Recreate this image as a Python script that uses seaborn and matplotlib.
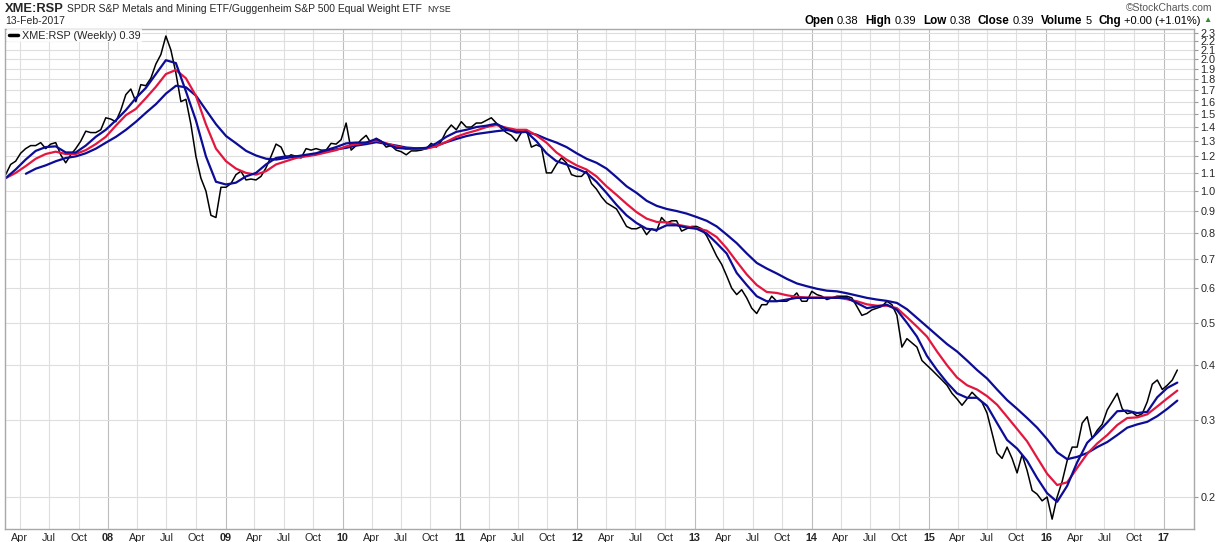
import pandas as pd
import matplotlib.pyplot as plt
import matplotlib.dates as mdates
from matplotlib.lines import Line2D
from matplotlib.ticker import FixedLocator, FixedFormatter, NullLocator
import seaborn as sns

# XME:RSP weekly close (roughly every two weeks)
price = [
    1.09, 1.15, 1.17, 1.22, 1.25, 1.27, 1.27, 1.29, 1.25, 1.28,
    1.29, 1.21, 1.16, 1.21, 1.25, 1.30, 1.37, 1.36, 1.36, 1.38,
    1.47, 1.46, 1.44, 1.53, 1.66, 1.71, 1.60, 1.75, 1.74, 1.81,
    1.95, 2.05, 2.26, 2.10, 1.86, 1.60, 1.62, 1.42, 1.20, 1.07,
    1.00, 0.88, 0.87, 1.02, 1.02, 1.04, 1.09, 1.11, 1.06, 1.065,
    1.06, 1.08, 1.13, 1.20, 1.28, 1.26, 1.19, 1.21, 1.20, 1.19,
    1.25, 1.24, 1.25, 1.24, 1.24, 1.285, 1.28, 1.31, 1.43, 1.24,
    1.27, 1.31, 1.34, 1.285, 1.32, 1.30, 1.26, 1.27, 1.24, 1.23,
    1.21, 1.235, 1.235, 1.24, 1.25, 1.285, 1.26, 1.30, 1.37, 1.415,
    1.38, 1.44, 1.40, 1.40, 1.43, 1.43, 1.45, 1.47, 1.43, 1.39,
    1.36, 1.34, 1.30, 1.36, 1.38, 1.26, 1.275, 1.26, 1.10, 1.10,
    1.15, 1.19, 1.16, 1.09, 1.08, 1.08, 1.11, 1.04, 1.01, 0.97,
    0.94, 0.925, 0.91, 0.87, 0.83, 0.82, 0.82, 0.83, 0.795, 0.82,
    0.81, 0.87, 0.845, 0.855, 0.855, 0.81, 0.82, 0.83, 0.83, 0.82,
    0.79, 0.75, 0.71, 0.68, 0.64, 0.60, 0.58, 0.595, 0.57, 0.54,
    0.525, 0.55, 0.55, 0.575, 0.56, 0.56, 0.56, 0.57, 0.585, 0.56,
    0.56, 0.59, 0.58, 0.575, 0.565, 0.57, 0.575, 0.575, 0.575, 0.57,
    0.545, 0.52, 0.525, 0.535, 0.54, 0.545, 0.56, 0.55, 0.52, 0.44,
    0.46, 0.45, 0.44, 0.41, 0.40, 0.39, 0.38, 0.37, 0.36, 0.345,
    0.335, 0.324, 0.335, 0.347, 0.338, 0.329, 0.311, 0.28, 0.252, 0.245,
    0.26, 0.245, 0.227, 0.25, 0.23, 0.207, 0.203, 0.196, 0.20, 0.178,
    0.20, 0.217, 0.242, 0.26, 0.26, 0.295, 0.305, 0.272, 0.284, 0.293,
    0.316, 0.33, 0.345, 0.318, 0.31, 0.312, 0.306, 0.31, 0.33, 0.362,
    0.37, 0.352, 0.36, 0.37, 0.39,
]

# moving averages (about monthly)
ma_fast = [
    1.07, 1.12, 1.18, 1.235, 1.26, 1.265, 1.225, 1.225, 1.27, 1.33,
    1.38, 1.45, 1.53, 1.63, 1.72, 1.85, 1.99, 1.96, 1.69, 1.45,
    1.20, 1.05, 1.035, 1.045, 1.08, 1.10, 1.15, 1.19, 1.20, 1.20,
    1.21, 1.22, 1.24, 1.26, 1.285, 1.29, 1.29, 1.315, 1.28, 1.255,
    1.25, 1.25, 1.255, 1.285, 1.33, 1.365, 1.38, 1.40, 1.41, 1.425,
    1.385, 1.36, 1.365, 1.30, 1.22, 1.17, 1.15, 1.125, 1.10, 1.05,
    0.99, 0.93, 0.88, 0.845, 0.82, 0.815, 0.835, 0.835, 0.825, 0.82,
    0.80, 0.76, 0.72, 0.65, 0.61, 0.575, 0.56, 0.56, 0.565, 0.57,
    0.57, 0.57, 0.57, 0.57, 0.57, 0.555, 0.54, 0.545, 0.55, 0.535,
    0.50, 0.465, 0.42, 0.39, 0.365, 0.345, 0.337, 0.337, 0.323, 0.295,
    0.27, 0.258, 0.242, 0.221, 0.204, 0.195, 0.212, 0.24, 0.266, 0.28,
    0.296, 0.314, 0.315, 0.311, 0.313, 0.338, 0.355, 0.365,
]

ma_mid = [
    1.07, 1.10, 1.14, 1.185, 1.215, 1.23, 1.215, 1.215, 1.24, 1.28,
    1.33, 1.41, 1.49, 1.54, 1.63, 1.73, 1.85, 1.89, 1.81, 1.65,
    1.42, 1.25, 1.17, 1.125, 1.10, 1.09, 1.11, 1.15, 1.17, 1.19,
    1.20, 1.21, 1.225, 1.24, 1.265, 1.28, 1.29, 1.305, 1.285, 1.265,
    1.25, 1.25, 1.25, 1.265, 1.295, 1.33, 1.355, 1.375, 1.40, 1.415,
    1.395, 1.38, 1.38, 1.34, 1.29, 1.225, 1.18, 1.145, 1.12, 1.08,
    1.025, 0.98, 0.935, 0.895, 0.865, 0.85, 0.848, 0.838, 0.83, 0.822,
    0.812, 0.785, 0.74, 0.69, 0.645, 0.61, 0.588, 0.585, 0.578, 0.573,
    0.571, 0.571, 0.571, 0.571, 0.566, 0.56, 0.551, 0.547, 0.547, 0.54,
    0.515, 0.49, 0.465, 0.43, 0.40, 0.375, 0.36, 0.352, 0.34, 0.325,
    0.305, 0.286, 0.268, 0.246, 0.226, 0.213, 0.216, 0.233, 0.251, 0.265,
    0.277, 0.292, 0.303, 0.304, 0.309, 0.322, 0.336, 0.35,
]

ma_slow = [
    1.095, 1.125, 1.145, 1.17, 1.19, 1.20, 1.22, 1.25, 1.29, 1.33,
    1.38, 1.44, 1.51, 1.58, 1.67, 1.74, 1.725, 1.65, 1.53, 1.42,
    1.335, 1.285, 1.235, 1.205, 1.185, 1.18, 1.19, 1.20, 1.205, 1.215,
    1.233, 1.245, 1.255, 1.27, 1.28, 1.293, 1.282, 1.27, 1.257, 1.252,
    1.252, 1.27, 1.293, 1.315, 1.335, 1.35, 1.36, 1.37, 1.378, 1.373,
    1.363, 1.345, 1.315, 1.29, 1.26, 1.22, 1.185, 1.16, 1.125, 1.075,
    1.025, 0.99, 0.95, 0.925, 0.91, 0.90, 0.888, 0.872, 0.855, 0.83,
    0.795, 0.76, 0.72, 0.685, 0.665, 0.648, 0.63, 0.615, 0.606, 0.598,
    0.592, 0.59, 0.584, 0.577, 0.57, 0.565, 0.561, 0.555, 0.537, 0.513,
    0.49, 0.468, 0.447, 0.43, 0.41, 0.39, 0.373, 0.352, 0.333, 0.318,
    0.303, 0.288, 0.271, 0.253, 0.244, 0.247, 0.252, 0.26, 0.267, 0.277,
    0.288, 0.293, 0.297, 0.306, 0.318, 0.332,
]

y_ticks = [0.2, 0.3, 0.4, 0.5, 0.6, 0.7, 0.8, 0.9, 1.0, 1.1, 1.2, 1.3, 1.4,
           1.5, 1.6, 1.7, 1.8, 1.9, 2.0, 2.1, 2.2, 2.3]

price_dates = pd.date_range('2007-02-16', '2017-02-13', periods=len(price))
fast_dates = pd.date_range('2007-02-16', '2017-02-13', periods=len(ma_fast))
mid_dates = pd.date_range('2007-02-16', '2017-02-13', periods=len(ma_mid))
slow_dates = pd.date_range('2007-04-20', '2017-02-13', periods=len(ma_slow))

sns.set_style('white')
plt.rcParams['font.family'] = ['Liberation Sans', 'DejaVu Sans']

W, H = 1227, 542
fig = plt.figure(figsize=(W / 100, H / 100), dpi=100)
ax = fig.add_axes([5 / W, 13 / H, 1189 / W, 500 / H])

blue = '#0c0c96'
red = '#e3163f'
sns.lineplot(x=price_dates, y=price, ax=ax, color='black', linewidth=1.1)
sns.lineplot(x=slow_dates, y=ma_slow, ax=ax, color=blue, linewidth=1.6)
sns.lineplot(x=mid_dates, y=ma_mid, ax=ax, color=red, linewidth=1.6)
sns.lineplot(x=fast_dates, y=ma_fast, ax=ax, color=blue, linewidth=1.6)

ax.set_yscale('log')
ax.set_ylim(0.169, 2.345)
ax.set_xlim(pd.Timestamp('2007-02-14'), pd.Timestamp('2017-04-06'))
ax.set_xlabel('')
ax.set_ylabel('')

# y axis on the right
ax.yaxis.tick_right()
ax.yaxis.set_major_locator(FixedLocator(y_ticks))
ax.yaxis.set_major_formatter(FixedFormatter([f'{v:.1f}' for v in y_ticks]))
ax.yaxis.set_minor_locator(NullLocator())
ax.tick_params(axis='y', which='major', right=True, length=3, width=0.8,
               color='#999999', labelsize=7.8, pad=1.5)

# quarterly x ticks, years in bold
q_dates = pd.date_range('2007-04-01', '2017-01-01', freq='QS')
ax.xaxis.set_major_locator(FixedLocator(mdates.date2num(q_dates)))
ax.xaxis.set_major_formatter(FixedFormatter(
    [f'{d.year % 100:02d}' if d.month == 1 else d.strftime('%b') for d in q_dates]))
ax.tick_params(axis='x', length=0, labelsize=7.8, pad=3)
for lbl, d in zip(ax.get_xticklabels(), q_dates):
    if d.month == 1:
        lbl.set_fontweight('bold')

ax.grid(True, axis='both', color='#dedede', linewidth=0.8)
for gl, d in zip(ax.get_xgridlines(), q_dates):
    if d.month == 1:
        gl.set_color('#bdbdbd')
ax.set_axisbelow(True)
for s in ax.spines.values():
    s.set_color('#a8a8a8')
    s.set_linewidth(1.0)

# legend box in the upper left
leg = ax.legend(handles=[Line2D([], [], color='black', linewidth=2.5)],
                labels=['XME:RSP (Weekly) 0.39'], loc='upper left',
                bbox_to_anchor=(0.002, 1.0), borderaxespad=0, frameon=True,
                fancybox=False, handlelength=0.8, handletextpad=0.4,
                borderpad=0.15, fontsize=7.8)
leg.get_frame().set_edgecolor('white')
leg.get_frame().set_linewidth(0)


# header
def fx(px):
    return px / W


def fy(py):
    return 1 - py / H


renderer = fig.canvas.get_renderer()

fig.text(fx(5), fy(9), 'XME:RSP', fontsize=9.3, fontweight='bold', va='center')
title = fig.text(fx(67), fy(9),
                 'SPDR S&P Metals and Mining ETF/Guggenheim S&P 500 Equal Weight ETF',
                 fontsize=7.5, va='center')
tw = title.get_window_extent(renderer).width
fig.text(fx(67 + tw + 5), fy(9.5), 'NYSE', fontsize=6.2, va='center')
fig.text(fx(5), fy(21), '13-Feb-2017', fontsize=7.5, va='center')
fig.text(fx(1212), fy(8), '\u00a9StockCharts.com', fontsize=7.5, va='center',
         ha='right', color='#555555')

pieces = [('Open', 'bold', 'black', 3), ('0.38', 'normal', 'black', 7),
          ('High', 'bold', 'black', 3), ('0.39', 'normal', 'black', 7),
          ('Low', 'bold', 'black', 3), ('0.38', 'normal', 'black', 7),
          ('Close', 'bold', 'black', 3), ('0.39', 'normal', 'black', 7),
          ('Volume', 'bold', 'black', 3), ('5', 'normal', 'black', 7),
          ('Chg', 'bold', 'black', 3), ('+0.00 (+1.01%)', 'normal', 'black', 3),
          ('\u25b2', 'normal', '#2e8b2e', 0)]
objs = []
for txt, wt, col, gap in pieces:
    size = 8.4 if wt == 'bold' else 8.0
    if txt == '\u25b2':
        size = 6
    t = fig.text(0, fy(21), txt, fontsize=size, fontweight=wt, color=col, va='center')
    objs.append((t, gap))
widths = [t.get_window_extent(renderer).width for t, _ in objs]
total = sum(widths) + sum(g for _, g in objs)
x = 1212 - total
for (t, gap), w in zip(objs, widths):
    t.set_x(fx(x))
    x += w + gap

fig.savefig('out.png', dpi=100)
